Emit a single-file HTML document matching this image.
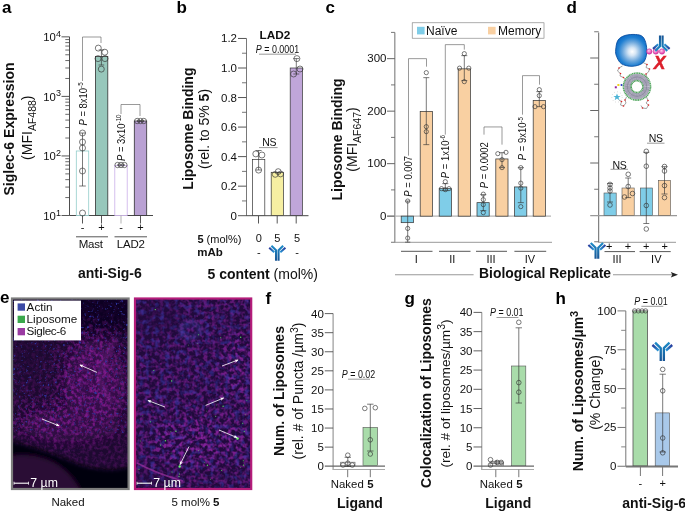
<!DOCTYPE html>
<html><head><meta charset="utf-8"><title>Figure</title>
<style>html,body{margin:0;padding:0;background:#fff}svg{display:block;will-change:transform}text{font-family:"Liberation Sans",sans-serif}</style></head>
<body><svg width="685" height="511" viewBox="0 0 685 511">
<rect width="685" height="511" fill="#fff"/>
<defs>
<linearGradient id="abH" gradientUnits="userSpaceOnUse" x1="0" y1="0" x2="0" y2="19"><stop offset="0" stop-color="#1e8cc8"/><stop offset="0.5" stop-color="#1a70ae"/><stop offset="1" stop-color="#185494"/></linearGradient>
<linearGradient id="abL" gradientUnits="userSpaceOnUse" x1="-9.9" y1="2.8" x2="-3.7" y2="8.3"><stop offset="0" stop-color="#27369a"/><stop offset="0.45" stop-color="#2563b4"/><stop offset="1" stop-color="#2a9ad8"/></linearGradient>
<linearGradient id="abR" gradientUnits="userSpaceOnUse" x1="9.9" y1="2.8" x2="3.7" y2="8.3"><stop offset="0" stop-color="#27369a"/><stop offset="0.45" stop-color="#2563b4"/><stop offset="1" stop-color="#2a9ad8"/></linearGradient>
</defs>
<text x="2" y="12.6" font-size="17" text-anchor="start" font-weight="bold" fill="#000"  style="">a</text>
<text x="176.5" y="12.6" font-size="17" text-anchor="start" font-weight="bold" fill="#000"  style="">b</text>
<text x="325.5" y="12.6" font-size="17" text-anchor="start" font-weight="bold" fill="#000"  style="">c</text>
<text x="566.5" y="12.6" font-size="17" text-anchor="start" font-weight="bold" fill="#000"  style="">d</text>
<text x="0" y="303.4" font-size="17" text-anchor="start" font-weight="bold" fill="#000"  style="">e</text>
<text x="265.5" y="303.6" font-size="17" text-anchor="start" font-weight="bold" fill="#000"  style="">f</text>
<text x="404.5" y="303.6" font-size="17" text-anchor="start" font-weight="bold" fill="#000"  style="">g</text>
<text x="555.5" y="303.7" font-size="17" text-anchor="start" font-weight="bold" fill="#000"  style="">h</text>
<line x1="69.5" y1="36.8" x2="69.5" y2="215.5" stroke="#3a3a3a" stroke-width="0.9"/>
<line x1="69.5" y1="215.5" x2="153" y2="215.5" stroke="#333" stroke-width="0.9"/>
<line x1="61.5" y1="215.5" x2="69.5" y2="215.5" stroke="#444" stroke-width="0.9"/>
<text x="60.9" y="219.8" font-size="11.3" text-anchor="end" fill="#111">10<tspan dy="-4.3" font-size="9">1</tspan></text>
<line x1="65.3" y1="197.57366375820993" x2="69.5" y2="197.57366375820993" stroke="#444" stroke-width="0.8"/>
<line x1="65.3" y1="187.08742928144412" x2="69.5" y2="187.08742928144412" stroke="#444" stroke-width="0.8"/>
<line x1="65.3" y1="179.64732751641984" x2="69.5" y2="179.64732751641984" stroke="#444" stroke-width="0.8"/>
<line x1="65.3" y1="173.87633624179009" x2="69.5" y2="173.87633624179009" stroke="#444" stroke-width="0.8"/>
<line x1="65.3" y1="169.16109303965402" x2="69.5" y2="169.16109303965402" stroke="#444" stroke-width="0.8"/>
<line x1="65.3" y1="165.174411717151" x2="69.5" y2="165.174411717151" stroke="#444" stroke-width="0.8"/>
<line x1="65.3" y1="161.72099127462977" x2="69.5" y2="161.72099127462977" stroke="#444" stroke-width="0.8"/>
<line x1="65.3" y1="158.6748585628882" x2="69.5" y2="158.6748585628882" stroke="#444" stroke-width="0.8"/>
<line x1="61.5" y1="155.95" x2="69.5" y2="155.95" stroke="#444" stroke-width="0.9"/>
<text x="60.9" y="160.25" font-size="11.3" text-anchor="end" fill="#111">10<tspan dy="-4.3" font-size="9">2</tspan></text>
<line x1="65.3" y1="138.02366375820992" x2="69.5" y2="138.02366375820992" stroke="#444" stroke-width="0.8"/>
<line x1="65.3" y1="127.53742928144409" x2="69.5" y2="127.53742928144409" stroke="#444" stroke-width="0.8"/>
<line x1="65.3" y1="120.09732751641984" x2="69.5" y2="120.09732751641984" stroke="#444" stroke-width="0.8"/>
<line x1="65.3" y1="114.32633624179009" x2="69.5" y2="114.32633624179009" stroke="#444" stroke-width="0.8"/>
<line x1="65.3" y1="109.61109303965404" x2="69.5" y2="109.61109303965404" stroke="#444" stroke-width="0.8"/>
<line x1="65.3" y1="105.624411717151" x2="69.5" y2="105.624411717151" stroke="#444" stroke-width="0.8"/>
<line x1="65.3" y1="102.17099127462976" x2="69.5" y2="102.17099127462976" stroke="#444" stroke-width="0.8"/>
<line x1="65.3" y1="99.12485856288822" x2="69.5" y2="99.12485856288822" stroke="#444" stroke-width="0.8"/>
<line x1="61.5" y1="96.4" x2="69.5" y2="96.4" stroke="#444" stroke-width="0.9"/>
<text x="60.9" y="100.7" font-size="11.3" text-anchor="end" fill="#111">10<tspan dy="-4.3" font-size="9">3</tspan></text>
<line x1="65.3" y1="78.47366375820991" x2="69.5" y2="78.47366375820991" stroke="#444" stroke-width="0.8"/>
<line x1="65.3" y1="67.9874292814441" x2="69.5" y2="67.9874292814441" stroke="#444" stroke-width="0.8"/>
<line x1="65.3" y1="60.54732751641984" x2="69.5" y2="60.54732751641984" stroke="#444" stroke-width="0.8"/>
<line x1="65.3" y1="54.77633624179009" x2="69.5" y2="54.77633624179009" stroke="#444" stroke-width="0.8"/>
<line x1="65.3" y1="50.061093039654025" x2="69.5" y2="50.061093039654025" stroke="#444" stroke-width="0.8"/>
<line x1="65.3" y1="46.07441171715101" x2="69.5" y2="46.07441171715101" stroke="#444" stroke-width="0.8"/>
<line x1="65.3" y1="42.620991274629745" x2="69.5" y2="42.620991274629745" stroke="#444" stroke-width="0.8"/>
<line x1="65.3" y1="39.57485856288821" x2="69.5" y2="39.57485856288821" stroke="#444" stroke-width="0.8"/>
<line x1="61.5" y1="36.85000000000002" x2="69.5" y2="36.85000000000002" stroke="#444" stroke-width="0.9"/>
<text x="60.9" y="41.15000000000002" font-size="11.3" text-anchor="end" fill="#111">10<tspan dy="-4.3" font-size="9">4</tspan></text>
<rect x="76.3" y="151" width="12.4" height="64.5" fill="#fff" stroke="#93cdcb" stroke-width="0.8"/>
<rect x="95.4" y="56.5" width="12.4" height="159.0" fill="#97c7bb" stroke="#333" stroke-width="0.8"/>
<rect x="114.8" y="165.5" width="12.4" height="50.0" fill="#fff" stroke="#cbb0ea" stroke-width="0.8"/>
<rect x="134.3" y="121" width="12.4" height="94.5" fill="#b9a1d3" stroke="#333" stroke-width="0.8"/>
<line x1="82.5" y1="215.5" x2="82.5" y2="223.5" stroke="#444" stroke-width="0.9"/>
<line x1="101.5" y1="215.5" x2="101.5" y2="223.5" stroke="#444" stroke-width="0.9"/>
<line x1="121" y1="215.5" x2="121" y2="223.5" stroke="#aaa" stroke-width="0.9"/>
<line x1="140.5" y1="215.5" x2="140.5" y2="223.5" stroke="#444" stroke-width="0.9"/>
<text x="82.5" y="231" font-size="11" text-anchor="middle" font-weight="normal" fill="#111"  style="">-</text>
<text x="101.5" y="231" font-size="11" text-anchor="middle" font-weight="normal" fill="#111"  style="">+</text>
<text x="121" y="231" font-size="11" text-anchor="middle" font-weight="normal" fill="#111"  style="">-</text>
<text x="140.5" y="231" font-size="11" text-anchor="middle" font-weight="normal" fill="#111"  style="">+</text>
<line x1="76" y1="236.8" x2="108" y2="236.8" stroke="#444" stroke-width="0.9"/>
<line x1="114.5" y1="236.8" x2="147" y2="236.8" stroke="#444" stroke-width="0.9"/>
<text x="90.8" y="248.2" font-size="11.5" text-anchor="middle" font-weight="normal" fill="#111"  style="letter-spacing:-0.2px">Mast</text>
<text x="130.8" y="248.2" font-size="11.5" text-anchor="middle" font-weight="normal" fill="#111"  style="letter-spacing:-0.2px">LAD2</text>
<text x="78" y="278.3" font-size="14" text-anchor="start" font-weight="bold" fill="#111"  style="">anti-Sig-6</text>
<text transform="translate(14.3,129) rotate(-90)" font-size="14" text-anchor="middle" font-weight="bold" fill="#111"  style="">Siglec-6 Expression</text>
<text transform="translate(32,127.7) rotate(-90)" font-size="14" text-anchor="middle" fill="#111">(MFI<tspan dy="4.4" font-size="10.5">AF488</tspan><tspan dy="-4.4">)</tspan></text>
<line x1="82.5" y1="133" x2="82.5" y2="186" stroke="#333" stroke-width="0.65"/>
<line x1="79.2" y1="133" x2="85.8" y2="133" stroke="#333" stroke-width="0.65"/>
<line x1="79.2" y1="186" x2="85.8" y2="186" stroke="#333" stroke-width="0.65"/>
<circle cx="82.5" cy="133" r="3.0" fill="none" stroke="#333" stroke-width="0.65"/>
<circle cx="82.5" cy="142" r="3.0" fill="none" stroke="#333" stroke-width="0.65"/>
<circle cx="82.5" cy="148" r="3.0" fill="none" stroke="#333" stroke-width="0.65"/>
<circle cx="82.5" cy="171" r="3.0" fill="none" stroke="#333" stroke-width="0.65"/>
<circle cx="82.5" cy="213" r="3.0" fill="none" stroke="#333" stroke-width="0.65"/>
<line x1="101.4" y1="49.9" x2="101.4" y2="65" stroke="#333" stroke-width="0.65"/>
<line x1="98.60000000000001" y1="49.9" x2="104.2" y2="49.9" stroke="#333" stroke-width="0.65"/>
<line x1="98.60000000000001" y1="65" x2="104.2" y2="65" stroke="#333" stroke-width="0.65"/>
<circle cx="98.3" cy="48.1" r="3.0" fill="none" stroke="#333" stroke-width="0.65"/>
<circle cx="104.8" cy="52.2" r="3.0" fill="none" stroke="#333" stroke-width="0.65"/>
<circle cx="98" cy="58.6" r="3.0" fill="none" stroke="#333" stroke-width="0.65"/>
<circle cx="105" cy="58.6" r="3.0" fill="none" stroke="#333" stroke-width="0.65"/>
<circle cx="101.3" cy="69.1" r="3.0" fill="none" stroke="#333" stroke-width="0.65"/>
<circle cx="117.6" cy="165" r="2.7" fill="none" stroke="#333" stroke-width="0.65"/>
<circle cx="121" cy="165" r="2.7" fill="none" stroke="#333" stroke-width="0.65"/>
<circle cx="124.4" cy="165" r="2.7" fill="none" stroke="#333" stroke-width="0.65"/>
<line x1="117" y1="165" x2="125" y2="165" stroke="#222" stroke-width="0.8"/>
<circle cx="137.2" cy="121" r="2.7" fill="none" stroke="#333" stroke-width="0.65"/>
<circle cx="140.5" cy="121" r="2.7" fill="none" stroke="#333" stroke-width="0.65"/>
<circle cx="143.8" cy="121" r="2.7" fill="none" stroke="#333" stroke-width="0.65"/>
<line x1="137" y1="121" x2="144" y2="121" stroke="#222" stroke-width="0.8"/>
<polyline points="82.5,81 82.5,37 101,37 101,43" fill="none" stroke="#555" stroke-width="0.6"/>
<polyline points="121,114 121,104.5 140,104.5 140,116" fill="none" stroke="#555" stroke-width="0.6"/>
<text transform="translate(86.7,125.5) rotate(-90) scale(0.83,1)" font-size="11.4" fill="#111"><tspan font-style="italic">P</tspan> = 8x10<tspan dy="-3.8" font-size="7.5">-5</tspan></text>
<text transform="translate(125,161) rotate(-90) scale(0.83,1)" font-size="11.4" fill="#111"><tspan font-style="italic">P</tspan> = 3x10<tspan dy="-3.8" font-size="7.5">-10</tspan></text>
<line x1="246.5" y1="38.5" x2="246.5" y2="216" stroke="#6a6a6a" stroke-width="0.9"/>
<line x1="246.5" y1="215.7" x2="308.5" y2="215.7" stroke="#333" stroke-width="0.9"/>
<line x1="238.0" y1="215.7" x2="246.5" y2="215.7" stroke="#555" stroke-width="1"/>
<text x="237.0" y="219.7" font-size="11.5" text-anchor="end" font-weight="normal" fill="#111"  style="">0</text>
<line x1="242.0" y1="200.92999999999998" x2="246.5" y2="200.92999999999998" stroke="#555" stroke-width="0.8"/>
<line x1="238.0" y1="186.16" x2="246.5" y2="186.16" stroke="#555" stroke-width="1"/>
<text x="237.0" y="190.16" font-size="11.5" text-anchor="end" font-weight="normal" fill="#111"  style="">0.2</text>
<line x1="242.0" y1="171.39" x2="246.5" y2="171.39" stroke="#555" stroke-width="0.8"/>
<line x1="238.0" y1="156.62" x2="246.5" y2="156.62" stroke="#555" stroke-width="1"/>
<text x="237.0" y="160.62" font-size="11.5" text-anchor="end" font-weight="normal" fill="#111"  style="">0.4</text>
<line x1="242.0" y1="141.85" x2="246.5" y2="141.85" stroke="#555" stroke-width="0.8"/>
<line x1="238.0" y1="127.08" x2="246.5" y2="127.08" stroke="#555" stroke-width="1"/>
<text x="237.0" y="131.07999999999998" font-size="11.5" text-anchor="end" font-weight="normal" fill="#111"  style="">0.6</text>
<line x1="242.0" y1="112.31" x2="246.5" y2="112.31" stroke="#555" stroke-width="0.8"/>
<line x1="238.0" y1="97.53999999999999" x2="246.5" y2="97.53999999999999" stroke="#555" stroke-width="1"/>
<text x="237.0" y="101.53999999999999" font-size="11.5" text-anchor="end" font-weight="normal" fill="#111"  style="">0.8</text>
<line x1="242.0" y1="82.76999999999998" x2="246.5" y2="82.76999999999998" stroke="#555" stroke-width="0.8"/>
<line x1="238.0" y1="68.0" x2="246.5" y2="68.0" stroke="#555" stroke-width="1"/>
<text x="237.0" y="72.0" font-size="11.5" text-anchor="end" font-weight="normal" fill="#111"  style="">1.0</text>
<line x1="242.0" y1="53.22999999999999" x2="246.5" y2="53.22999999999999" stroke="#555" stroke-width="0.8"/>
<line x1="238.0" y1="38.46000000000001" x2="246.5" y2="38.46000000000001" stroke="#555" stroke-width="1"/>
<text x="237.0" y="42.46000000000001" font-size="11.5" text-anchor="end" font-weight="normal" fill="#111"  style="">1.2</text>
<rect x="252.4" y="159.4" width="12.4" height="56.2" fill="#fff" stroke="#333" stroke-width="0.7"/>
<rect x="271.2" y="172.3" width="12.2" height="43.3" fill="#f6efa2" stroke="#333" stroke-width="0.7"/>
<rect x="290.2" y="68" width="12.2" height="147.6" fill="#c0a6d9" stroke="#333" stroke-width="0.7"/>
<line x1="258.5" y1="216" x2="258.5" y2="223.5" stroke="#444" stroke-width="0.9"/>
<line x1="277.2" y1="216" x2="277.2" y2="223.5" stroke="#444" stroke-width="0.9"/>
<line x1="296.2" y1="216" x2="296.2" y2="223.5" stroke="#444" stroke-width="0.9"/>
<text x="197.4" y="242.6" font-size="11" fill="#111"><tspan font-weight="bold">5</tspan> (mol%)</text>
<text x="258.8" y="242.3" font-size="11" text-anchor="middle" font-weight="normal" fill="#111"  style="">0</text>
<text x="277.4" y="242.3" font-size="11" text-anchor="middle" font-weight="normal" fill="#111"  style="">5</text>
<text x="297" y="242.3" font-size="11" text-anchor="middle" font-weight="normal" fill="#111"  style="">5</text>
<text x="197.2" y="255.6" font-size="11.5" text-anchor="start" font-weight="bold" fill="#111"  style="">mAb</text>
<text x="258.8" y="256" font-size="11" text-anchor="middle" font-weight="normal" fill="#111"  style="">-</text>
<text x="297" y="256" font-size="11" text-anchor="middle" font-weight="normal" fill="#111"  style="">-</text>
<g transform="translate(277.3,245.5) scale(0.8157894736842105)" fill="none" stroke-linecap="butt" stroke-linejoin="round">
<path d="M-7.2,0.4 L-1.55,5.9 L-1.55,18.8" stroke="url(#abH)" stroke-width="2.55"/>
<path d="M7.2,0.4 L1.55,5.9 L1.55,18.8" stroke="url(#abH)" stroke-width="2.55"/>
<path d="M-9.9,2.8 L-3.7,8.3" stroke="url(#abL)" stroke-width="2.55"/>
<path d="M9.9,2.8 L3.7,8.3" stroke="url(#abR)" stroke-width="2.55"/>
</g>
<text x="275" y="38.5" font-size="11.8" text-anchor="middle" font-weight="bold" fill="#111"  style="">LAD2</text>
<text transform="translate(277.5,52.8) scale(0.81,1)" font-size="11" text-anchor="middle" fill="#111"><tspan font-style="italic">P</tspan> = 0.0001</text>
<line x1="259" y1="54.2" x2="296" y2="54.2" stroke="#555" stroke-width="0.6"/>
<text x="269.2" y="146.2" font-size="10.5" text-anchor="middle" font-weight="normal" fill="#111"  style="letter-spacing:-0.3px">NS</text>
<line x1="259" y1="147.6" x2="277.6" y2="147.6" stroke="#555" stroke-width="0.6"/>
<text x="207.5" y="278.5" font-size="14" fill="#111"><tspan font-weight="bold">5 content</tspan> (mol%)</text>
<text transform="translate(193,128.6) rotate(-90)" font-size="14" text-anchor="middle" font-weight="bold" fill="#111"  style="">Liposome Binding</text>
<text transform="translate(209.4,129) rotate(-90)" font-size="14" text-anchor="middle" fill="#111">(rel. to 5% <tspan font-weight="bold">5</tspan>)</text>
<line x1="258.6" y1="150.5" x2="258.6" y2="170" stroke="#333" stroke-width="0.65"/>
<line x1="255.60000000000002" y1="150.5" x2="261.6" y2="150.5" stroke="#333" stroke-width="0.65"/>
<line x1="255.60000000000002" y1="170" x2="261.6" y2="170" stroke="#333" stroke-width="0.65"/>
<circle cx="255.8" cy="153.9" r="3.0" fill="none" stroke="#333" stroke-width="0.65"/>
<circle cx="261.9" cy="155" r="3.0" fill="none" stroke="#333" stroke-width="0.65"/>
<circle cx="258.6" cy="170.1" r="3.0" fill="none" stroke="#333" stroke-width="0.65"/>
<circle cx="275.2" cy="174.4" r="2.9" fill="none" stroke="#333" stroke-width="0.65"/>
<circle cx="278.2" cy="171.6" r="2.9" fill="none" stroke="#333" stroke-width="0.65"/>
<circle cx="280.6" cy="174" r="2.9" fill="none" stroke="#333" stroke-width="0.65"/>
<line x1="275" y1="172.8" x2="281" y2="172.8" stroke="#333" stroke-width="0.6"/>
<line x1="296.3" y1="58.6" x2="296.3" y2="74" stroke="#333" stroke-width="0.65"/>
<line x1="293.3" y1="58.6" x2="299.3" y2="58.6" stroke="#333" stroke-width="0.65"/>
<line x1="293.3" y1="74" x2="299.3" y2="74" stroke="#333" stroke-width="0.65"/>
<circle cx="296.9" cy="58.6" r="3.0" fill="none" stroke="#333" stroke-width="0.65"/>
<circle cx="300" cy="69" r="3.0" fill="none" stroke="#333" stroke-width="0.65"/>
<circle cx="293.6" cy="74" r="3.0" fill="none" stroke="#333" stroke-width="0.65"/>
<g transform="translate(0,0.65)">
<line x1="394.8" y1="31.8" x2="394.8" y2="241.8" stroke="#909090" stroke-width="1.3"/>
<line x1="387.3" y1="215.5" x2="551" y2="215.5" stroke="#b4b4b4" stroke-width="1.3"/>
<line x1="391.0" y1="241.75" x2="394.8" y2="241.75" stroke="#555" stroke-width="0.8"/>
<line x1="387.0" y1="215.5" x2="394.8" y2="215.5" stroke="#555" stroke-width="0.9"/>
<text x="386.5" y="219.2" font-size="11.5" text-anchor="end" font-weight="normal" fill="#111"  style="">0</text>
<line x1="391.0" y1="189.25" x2="394.8" y2="189.25" stroke="#555" stroke-width="0.8"/>
<line x1="387.0" y1="163.0" x2="394.8" y2="163.0" stroke="#555" stroke-width="0.9"/>
<text x="386.5" y="166.7" font-size="11.5" text-anchor="end" font-weight="normal" fill="#111"  style="">100</text>
<line x1="391.0" y1="136.75" x2="394.8" y2="136.75" stroke="#555" stroke-width="0.8"/>
<line x1="387.0" y1="110.5" x2="394.8" y2="110.5" stroke="#555" stroke-width="0.9"/>
<text x="386.5" y="114.2" font-size="11.5" text-anchor="end" font-weight="normal" fill="#111"  style="">200</text>
<line x1="391.0" y1="84.25" x2="394.8" y2="84.25" stroke="#555" stroke-width="0.8"/>
<line x1="387.0" y1="58.0" x2="394.8" y2="58.0" stroke="#555" stroke-width="0.9"/>
<text x="386.5" y="61.7" font-size="11.5" text-anchor="end" font-weight="normal" fill="#111"  style="">300</text>
<line x1="391.0" y1="31.75" x2="394.8" y2="31.75" stroke="#555" stroke-width="0.8"/>
<rect x="401.2" y="215.5" width="12.2" height="6.5" fill="#7fcde8" stroke="#3a3a3a" stroke-width="0.75"/>
<rect x="420.2" y="110.8" width="12.2" height="104.7" fill="#f9d0a2" stroke="#3a3a3a" stroke-width="0.75"/>
<rect x="439.2" y="188" width="12.2" height="27.5" fill="#7fcde8" stroke="#3a3a3a" stroke-width="0.75"/>
<rect x="458.2" y="68.2" width="12.2" height="147.3" fill="#f9d0a2" stroke="#3a3a3a" stroke-width="0.75"/>
<rect x="477" y="202" width="12.2" height="13.5" fill="#7fcde8" stroke="#3a3a3a" stroke-width="0.75"/>
<rect x="495.8" y="158.3" width="12.2" height="57.19999999999999" fill="#f9d0a2" stroke="#3a3a3a" stroke-width="0.75"/>
<rect x="514.6" y="186.3" width="12.2" height="29.19999999999999" fill="#7fcde8" stroke="#3a3a3a" stroke-width="0.75"/>
<rect x="533.2" y="99.8" width="12.2" height="115.7" fill="#f9d0a2" stroke="#3a3a3a" stroke-width="0.75"/>
</g>
<line x1="391.0" y1="242.3" x2="552" y2="242.3" stroke="#999" stroke-width="1"/>
<line x1="401" y1="251.3" x2="432.5" y2="251.3" stroke="#444" stroke-width="0.9"/>
<text x="416.35" y="263" font-size="11" text-anchor="middle" font-weight="normal" fill="#111"  style="">I</text>
<line x1="439" y1="251.3" x2="470.5" y2="251.3" stroke="#444" stroke-width="0.9"/>
<text x="452.35" y="263" font-size="11" text-anchor="middle" font-weight="normal" fill="#111"  style="">II</text>
<line x1="476" y1="251.3" x2="507" y2="251.3" stroke="#444" stroke-width="0.9"/>
<text x="491.1" y="263" font-size="11" text-anchor="middle" font-weight="normal" fill="#111"  style="">III</text>
<line x1="514.4" y1="251.3" x2="546.2" y2="251.3" stroke="#444" stroke-width="0.9"/>
<text x="529.9" y="263" font-size="11" text-anchor="middle" font-weight="normal" fill="#111"  style="">IV</text>
<rect x="412.2" y="22.8" width="131.8" height="15.4" fill="#fff" stroke="#777" stroke-width="0.6"/>
<rect x="417" y="26.8" width="7.6" height="7.6" fill="#7fcde8"/>
<text x="426" y="35" font-size="12" text-anchor="start" font-weight="normal" fill="#111"  style="">Naïve</text>
<rect x="488" y="26.8" width="7.6" height="7.6" fill="#f9d0a2"/>
<text x="498" y="35" font-size="12" text-anchor="start" font-weight="normal" fill="#111"  style="">Memory</text>
<g transform="translate(0,0.65)">
<line x1="407.7" y1="200.4" x2="407.7" y2="241.5" stroke="#333" stroke-width="0.65"/>
<line x1="405.09999999999997" y1="200.4" x2="410.3" y2="200.4" stroke="#333" stroke-width="0.65"/>
<line x1="405.09999999999997" y1="241.5" x2="410.3" y2="241.5" stroke="#333" stroke-width="0.65"/>
<circle cx="407.7" cy="200.4" r="2.1" fill="none" stroke="#333" stroke-width="0.65"/>
<circle cx="407.7" cy="227.8" r="2.1" fill="none" stroke="#333" stroke-width="0.65"/>
<circle cx="407.7" cy="237.4" r="2.1" fill="none" stroke="#333" stroke-width="0.65"/>
<line x1="426.3" y1="77" x2="426.3" y2="144" stroke="#333" stroke-width="0.65"/>
<line x1="423.3" y1="77" x2="429.3" y2="77" stroke="#333" stroke-width="0.65"/>
<line x1="423.3" y1="144" x2="429.3" y2="144" stroke="#333" stroke-width="0.65"/>
<circle cx="426.3" cy="72" r="2.1" fill="none" stroke="#333" stroke-width="0.65"/>
<circle cx="426.3" cy="126" r="2.1" fill="none" stroke="#333" stroke-width="0.65"/>
<circle cx="426.3" cy="131" r="2.1" fill="none" stroke="#333" stroke-width="0.65"/>
<line x1="445.3" y1="183" x2="445.3" y2="190" stroke="#333" stroke-width="0.65"/>
<line x1="442.3" y1="183" x2="448.3" y2="183" stroke="#333" stroke-width="0.65"/>
<line x1="442.3" y1="190" x2="448.3" y2="190" stroke="#333" stroke-width="0.65"/>
<circle cx="445.3" cy="181" r="2.1" fill="none" stroke="#333" stroke-width="0.65"/>
<circle cx="441.5" cy="188" r="2.1" fill="none" stroke="#333" stroke-width="0.65"/>
<circle cx="445.3" cy="189" r="2.1" fill="none" stroke="#333" stroke-width="0.65"/>
<circle cx="449" cy="188" r="2.1" fill="none" stroke="#333" stroke-width="0.65"/>
<line x1="464.3" y1="55" x2="464.3" y2="80" stroke="#333" stroke-width="0.65"/>
<line x1="461.3" y1="55" x2="467.3" y2="55" stroke="#333" stroke-width="0.65"/>
<line x1="461.3" y1="80" x2="467.3" y2="80" stroke="#333" stroke-width="0.65"/>
<circle cx="464.3" cy="53" r="2.1" fill="none" stroke="#333" stroke-width="0.65"/>
<circle cx="459.5" cy="67.5" r="2.1" fill="none" stroke="#333" stroke-width="0.65"/>
<circle cx="468.8" cy="67.5" r="2.1" fill="none" stroke="#333" stroke-width="0.65"/>
<circle cx="464.3" cy="81" r="2.1" fill="none" stroke="#333" stroke-width="0.65"/>
<line x1="483.3" y1="194" x2="483.3" y2="210" stroke="#333" stroke-width="0.65"/>
<line x1="480.3" y1="194" x2="486.3" y2="194" stroke="#333" stroke-width="0.65"/>
<line x1="480.3" y1="210" x2="486.3" y2="210" stroke="#333" stroke-width="0.65"/>
<circle cx="483.3" cy="193.5" r="2.1" fill="none" stroke="#333" stroke-width="0.65"/>
<circle cx="483.3" cy="199" r="2.1" fill="none" stroke="#333" stroke-width="0.65"/>
<circle cx="483.3" cy="204" r="2.1" fill="none" stroke="#333" stroke-width="0.65"/>
<circle cx="483.3" cy="212" r="2.1" fill="none" stroke="#333" stroke-width="0.65"/>
<line x1="502" y1="152" x2="502" y2="167" stroke="#333" stroke-width="0.65"/>
<line x1="499.0" y1="152" x2="505.0" y2="152" stroke="#333" stroke-width="0.65"/>
<line x1="499.0" y1="167" x2="505.0" y2="167" stroke="#333" stroke-width="0.65"/>
<circle cx="497.8" cy="153" r="2.1" fill="none" stroke="#333" stroke-width="0.65"/>
<circle cx="506" cy="151.7" r="2.1" fill="none" stroke="#333" stroke-width="0.65"/>
<circle cx="502" cy="159" r="2.1" fill="none" stroke="#333" stroke-width="0.65"/>
<circle cx="502" cy="167" r="2.1" fill="none" stroke="#333" stroke-width="0.65"/>
<line x1="520.8" y1="167" x2="520.8" y2="202" stroke="#333" stroke-width="0.65"/>
<line x1="517.8" y1="167" x2="523.8" y2="167" stroke="#333" stroke-width="0.65"/>
<line x1="517.8" y1="202" x2="523.8" y2="202" stroke="#333" stroke-width="0.65"/>
<circle cx="520.8" cy="167" r="2.1" fill="none" stroke="#333" stroke-width="0.65"/>
<circle cx="520.8" cy="182.5" r="2.1" fill="none" stroke="#333" stroke-width="0.65"/>
<circle cx="520.8" cy="187.5" r="2.1" fill="none" stroke="#333" stroke-width="0.65"/>
<circle cx="520.8" cy="206" r="2.1" fill="none" stroke="#333" stroke-width="0.65"/>
<line x1="539.3" y1="91" x2="539.3" y2="106" stroke="#333" stroke-width="0.65"/>
<line x1="536.3" y1="91" x2="542.3" y2="91" stroke="#333" stroke-width="0.65"/>
<line x1="536.3" y1="106" x2="542.3" y2="106" stroke="#333" stroke-width="0.65"/>
<circle cx="539.3" cy="89" r="2.1" fill="none" stroke="#333" stroke-width="0.65"/>
<circle cx="539.3" cy="95" r="2.1" fill="none" stroke="#333" stroke-width="0.65"/>
<circle cx="535" cy="106" r="2.1" fill="none" stroke="#333" stroke-width="0.65"/>
<circle cx="543.5" cy="106" r="2.1" fill="none" stroke="#333" stroke-width="0.65"/>
<polyline points="408.5,155 408.5,58 426.5,58 426.5,66" fill="none" stroke="#555" stroke-width="0.6"/>
<polyline points="445.3,134 445.3,44 464.3,44 464.3,49" fill="none" stroke="#555" stroke-width="0.6"/>
<polyline points="484,134 484,126.3 502,126.3 502,144" fill="none" stroke="#555" stroke-width="0.6"/>
<polyline points="522.5,114 522.5,75 539.5,75 539.5,84" fill="none" stroke="#555" stroke-width="0.6"/>
<text transform="translate(411.7,196) rotate(-90) scale(0.83,1)" font-size="11.4" fill="#111"><tspan font-style="italic">P</tspan> = 0.007</text>
<text transform="translate(449,177.5) rotate(-90) scale(0.83,1)" font-size="11.4" fill="#111"><tspan font-style="italic">P</tspan> = 1x10<tspan dy="-3.8" font-size="7.5">-6</tspan></text>
<text transform="translate(487.7,187.5) rotate(-90) scale(0.83,1)" font-size="11.4" fill="#111"><tspan font-style="italic">P</tspan> = 0.0002</text>
<text transform="translate(526.3,159.5) rotate(-90) scale(0.83,1)" font-size="11.4" fill="#111"><tspan font-style="italic">P</tspan> = 9x10<tspan dy="-3.8" font-size="7.5">-5</tspan></text>
</g>
<text transform="translate(341.5,139.5) rotate(-90)" font-size="14" text-anchor="middle" font-weight="bold" fill="#111"  style="">Liposome Binding</text>
<text transform="translate(357,139.5) rotate(-90)" font-size="14" text-anchor="middle" fill="#111">(MFI<tspan dy="4.4" font-size="10.5">AF647</tspan><tspan dy="-4.4">)</tspan></text>
<text x="479" y="278.2" font-size="13.9" text-anchor="start" font-weight="bold" fill="#111"  style="">Biological Replicate</text>
<line x1="395" y1="274.8" x2="473.6" y2="274.8" stroke="#999" stroke-width="1.1"/>
<line x1="613" y1="274.8" x2="674" y2="274.8" stroke="#999" stroke-width="1.1"/>
<path d="M678,274.8 L670.8,272 L672.3,274.8 L670.8,277.6 Z" fill="#222"/>
<line x1="598.7" y1="32.5" x2="598.7" y2="242.5" stroke="#666" stroke-width="1"/>
<line x1="598.7" y1="242.3" x2="676" y2="242.3" stroke="#999" stroke-width="1"/>
<line x1="590.2" y1="215.6" x2="677" y2="215.6" stroke="#999" stroke-width="1.2"/>
<line x1="594.2" y1="241.75" x2="598.7" y2="241.75" stroke="#666" stroke-width="0.9"/>
<line x1="594.2" y1="189.25" x2="598.7" y2="189.25" stroke="#666" stroke-width="0.9"/>
<line x1="590.2" y1="163.0" x2="598.7" y2="163.0" stroke="#666" stroke-width="1"/>
<line x1="594.2" y1="136.75" x2="598.7" y2="136.75" stroke="#666" stroke-width="0.9"/>
<line x1="590.2" y1="110.5" x2="598.7" y2="110.5" stroke="#666" stroke-width="1"/>
<line x1="594.2" y1="84.25" x2="598.7" y2="84.25" stroke="#666" stroke-width="0.9"/>
<line x1="590.2" y1="58.0" x2="598.7" y2="58.0" stroke="#666" stroke-width="1"/>
<line x1="594.2" y1="31.75" x2="598.7" y2="31.75" stroke="#666" stroke-width="0.9"/>
<rect x="604" y="193" width="12.2" height="22.599999999999994" fill="#7fcde8" stroke="#555" stroke-width="0.6"/>
<rect x="622" y="188" width="12.2" height="27.599999999999994" fill="#f9d0a2" stroke="#555" stroke-width="0.6"/>
<rect x="640.3" y="188" width="12.2" height="27.599999999999994" fill="#7fcde8" stroke="#555" stroke-width="0.6"/>
<rect x="658.4" y="180.3" width="12.2" height="35.29999999999998" fill="#f9d0a2" stroke="#555" stroke-width="0.6"/>
<line x1="610" y1="183.5" x2="610" y2="202" stroke="#333" stroke-width="0.65"/>
<line x1="607.0" y1="183.5" x2="613.0" y2="183.5" stroke="#333" stroke-width="0.65"/>
<line x1="607.0" y1="202" x2="613.0" y2="202" stroke="#333" stroke-width="0.65"/>
<circle cx="610" cy="184.4" r="2.3" fill="none" stroke="#333" stroke-width="0.65"/>
<circle cx="610" cy="188" r="2.3" fill="none" stroke="#333" stroke-width="0.65"/>
<circle cx="610" cy="191" r="2.3" fill="none" stroke="#333" stroke-width="0.65"/>
<circle cx="610" cy="205" r="2.3" fill="none" stroke="#333" stroke-width="0.65"/>
<line x1="628.2" y1="178" x2="628.2" y2="197.6" stroke="#333" stroke-width="0.65"/>
<line x1="625.2" y1="178" x2="631.2" y2="178" stroke="#333" stroke-width="0.65"/>
<line x1="625.2" y1="197.6" x2="631.2" y2="197.6" stroke="#333" stroke-width="0.65"/>
<circle cx="628.2" cy="174.3" r="2.3" fill="none" stroke="#333" stroke-width="0.65"/>
<circle cx="628.2" cy="186.5" r="2.3" fill="none" stroke="#333" stroke-width="0.65"/>
<circle cx="624.5" cy="197" r="2.3" fill="none" stroke="#333" stroke-width="0.65"/>
<circle cx="632.5" cy="193.5" r="2.3" fill="none" stroke="#333" stroke-width="0.65"/>
<line x1="646.3" y1="152.3" x2="646.3" y2="223.5" stroke="#333" stroke-width="0.65"/>
<line x1="643.3" y1="152.3" x2="649.3" y2="152.3" stroke="#333" stroke-width="0.65"/>
<line x1="643.3" y1="223.5" x2="649.3" y2="223.5" stroke="#333" stroke-width="0.65"/>
<circle cx="646.3" cy="151.3" r="2.3" fill="none" stroke="#333" stroke-width="0.65"/>
<circle cx="646.3" cy="166.2" r="2.3" fill="none" stroke="#333" stroke-width="0.65"/>
<circle cx="646.3" cy="205.5" r="2.3" fill="none" stroke="#333" stroke-width="0.65"/>
<circle cx="646.3" cy="229" r="2.3" fill="none" stroke="#333" stroke-width="0.65"/>
<line x1="664.5" y1="166.7" x2="664.5" y2="194" stroke="#333" stroke-width="0.65"/>
<line x1="661.5" y1="166.7" x2="667.5" y2="166.7" stroke="#333" stroke-width="0.65"/>
<line x1="661.5" y1="194" x2="667.5" y2="194" stroke="#333" stroke-width="0.65"/>
<circle cx="664.5" cy="166.5" r="2.3" fill="none" stroke="#333" stroke-width="0.65"/>
<circle cx="664.5" cy="171" r="2.3" fill="none" stroke="#333" stroke-width="0.65"/>
<circle cx="664.5" cy="185.6" r="2.3" fill="none" stroke="#333" stroke-width="0.65"/>
<circle cx="664.5" cy="197.6" r="2.3" fill="none" stroke="#333" stroke-width="0.65"/>
<text x="619.5" y="168.5" font-size="10.5" text-anchor="middle" font-weight="normal" fill="#111"  style="letter-spacing:-0.3px">NS</text>
<line x1="610.5" y1="169.3" x2="628" y2="169.3" stroke="#555" stroke-width="0.6"/>
<text x="655.8" y="142.3" font-size="10.5" text-anchor="middle" font-weight="normal" fill="#111"  style="letter-spacing:-0.3px">NS</text>
<line x1="647" y1="143.2" x2="664.5" y2="143.2" stroke="#555" stroke-width="0.6"/>
<text x="609.3" y="250.3" font-size="11" text-anchor="middle" font-weight="normal" fill="#111"  style="">+</text>
<text x="628" y="250.3" font-size="11" text-anchor="middle" font-weight="normal" fill="#111"  style="">+</text>
<text x="646.2" y="250.3" font-size="11" text-anchor="middle" font-weight="normal" fill="#111"  style="">+</text>
<text x="664.6" y="250.3" font-size="11" text-anchor="middle" font-weight="normal" fill="#111"  style="">+</text>
<line x1="604.5" y1="251.6" x2="635" y2="251.6" stroke="#444" stroke-width="0.9"/>
<line x1="639.6" y1="251.6" x2="670.7" y2="251.6" stroke="#444" stroke-width="0.9"/>
<text x="617" y="263" font-size="11" text-anchor="middle" font-weight="normal" fill="#111"  style="">III</text>
<text x="656.3" y="263" font-size="11" text-anchor="middle" font-weight="normal" fill="#111"  style="">IV</text>
<g transform="translate(596.9,242.6) scale(0.8578947368421053)" fill="none" stroke-linecap="butt" stroke-linejoin="round">
<path d="M-7.2,0.4 L-1.55,5.9 L-1.55,18.8" stroke="url(#abH)" stroke-width="2.55"/>
<path d="M7.2,0.4 L1.55,5.9 L1.55,18.8" stroke="url(#abH)" stroke-width="2.55"/>
<path d="M-9.9,2.8 L-3.7,8.3" stroke="url(#abL)" stroke-width="2.55"/>
<path d="M9.9,2.8 L3.7,8.3" stroke="url(#abR)" stroke-width="2.55"/>
</g>
<defs><radialGradient id="cell" cx="0.53" cy="0.54" r="0.56"><stop offset="0" stop-color="#ffffff"/><stop offset="0.22" stop-color="#d6e6f5"/><stop offset="0.55" stop-color="#6aa6dc"/><stop offset="0.8" stop-color="#1f7fd2"/><stop offset="1" stop-color="#0d6cc6"/></radialGradient>
<radialGradient id="pk" cx="0.4" cy="0.35" r="0.6"><stop offset="0" stop-color="#ffd0ee"/><stop offset="1" stop-color="#e23aa8"/></radialGradient></defs>
<path d="M615.7,50 C615.93,47.37 616.37,42.72 617.9,40.3 C619.43,37.88 621.97,36.47 624.9,35.5 C627.83,34.53 632.53,34.30 635.5,34.5 C638.47,34.70 640.92,35.00 642.7,36.7 C644.48,38.40 645.58,41.62 646.2,44.7 C646.82,47.78 647.02,52.12 646.4,55.2 C645.78,58.28 644.90,61.35 642.5,63.2 C640.10,65.05 635.52,66.22 632,66.3 C628.48,66.38 623.98,65.40 621.4,63.7 C618.82,62.00 617.45,58.38 616.5,56.1 C615.55,53.82 615.47,52.63 615.7,50 Z" fill="url(#cell)" stroke="#0b4fa2" stroke-width="0.9"/>
<circle cx="649.3" cy="51.5" r="2.7" fill="url(#pk)" stroke="#c02890" stroke-width="0.5"/>
<circle cx="655.8" cy="51.5" r="2.7" fill="url(#pk)" stroke="#c02890" stroke-width="0.5"/>
<circle cx="662" cy="51.5" r="2.7" fill="url(#pk)" stroke="#c02890" stroke-width="0.5"/>
<g transform="translate(661.3,51.199999999999996) scale(0.8368421052631579,-0.8368421052631579)" fill="none" stroke-linecap="butt" stroke-linejoin="round">
<path d="M-7.2,0.4 L-1.55,5.9 L-1.55,18.8" stroke="url(#abH)" stroke-width="2.55"/>
<path d="M7.2,0.4 L1.55,5.9 L1.55,18.8" stroke="url(#abH)" stroke-width="2.55"/>
<path d="M-9.9,2.8 L-3.7,8.3" stroke="url(#abL)" stroke-width="2.55"/>
<path d="M9.9,2.8 L3.7,8.3" stroke="url(#abR)" stroke-width="2.55"/>
</g>
<text x="653.8" y="69.3" font-size="17.5" font-weight="bold" font-style="italic" fill="#dc1f2b" stroke="#dc1f2b" stroke-width="0.5">X</text>
<circle cx="637" cy="86.6" r="13.4" fill="none" stroke="#55a862" stroke-width="1.9" stroke-dasharray="1.25 0.45"/>
<circle cx="637" cy="86.6" r="9.6" fill="none" stroke="#8f8ca2" stroke-width="6.2"/>
<circle cx="637" cy="86.6" r="9.6" fill="none" stroke="#c9c7d6" stroke-width="6.2" stroke-dasharray="0.35 0.5"/>
<circle cx="637" cy="86.6" r="9.7" fill="none" stroke="#77748c" stroke-width="0.8" opacity="0.6"/>
<circle cx="637" cy="86.6" r="5.9" fill="#fff" stroke="#4fa35c" stroke-width="1.7" stroke-dasharray="1.1 0.4"/>
<polyline points="622.5,66 619,68 617.5,71 620.5,73.5 620,76 623.5,77.5 625.5,80" fill="none" stroke="#858585" stroke-width="0.75"/>
<circle cx="619" cy="68" r="0.8" fill="#e02020"/>
<circle cx="620.5" cy="73.5" r="0.8" fill="#e02020"/>
<circle cx="623.5" cy="77.5" r="0.8" fill="#e02020"/>
<polyline points="643,62.5 647,64.5 646,67.5 649.5,69 648.5,72 646,74 646.5,77.5" fill="none" stroke="#858585" stroke-width="0.75"/>
<circle cx="647" cy="64.5" r="0.8" fill="#e02020"/>
<circle cx="649.5" cy="69" r="0.8" fill="#e02020"/>
<circle cx="646" cy="74" r="0.8" fill="#e02020"/>
<polyline points="626.5,97 625,100 626,103 623.5,106 620.5,105 621.5,101.5 619,100" fill="none" stroke="#858585" stroke-width="0.75"/>
<circle cx="625" cy="100" r="0.8" fill="#e02020"/>
<circle cx="623.5" cy="106" r="0.8" fill="#e02020"/>
<circle cx="621.5" cy="101.5" r="0.8" fill="#e02020"/>
<polyline points="646.5,97 648,100.5 646,103 648.5,105 646.5,108.5 642.5,108 641,105.5" fill="none" stroke="#858585" stroke-width="0.75"/>
<circle cx="648" cy="100.5" r="0.8" fill="#e02020"/>
<circle cx="648.5" cy="105" r="0.8" fill="#e02020"/>
<circle cx="642.5" cy="108" r="0.8" fill="#e02020"/>
<rect x="617.4" y="84" width="2" height="2" fill="#f2d21a"/><rect x="614.8" y="86.3" width="2" height="2" fill="#9020a0"/><circle cx="621.5" cy="85" r="1" fill="#2030c0"/>
<path d="M617,93.5 L618,96 L620.6,96 L618.5,97.6 L619.3,100.2 L617,98.6 L614.7,100.2 L615.5,97.6 L613.4,96 L616,96 Z" fill="#4db4d6"/>
<circle cx="617" cy="97" r="5.2" fill="none" stroke="#aaa" stroke-width="0.7" stroke-dasharray="0.6 2.4"/>
<line x1="333.1" y1="313.6" x2="333.1" y2="470" stroke="#999" stroke-width="1.2"/>
<line x1="333.1" y1="469.5" x2="385" y2="469.5" stroke="#aaa" stroke-width="1"/>
<line x1="324.8" y1="466.2" x2="385" y2="466.2" stroke="#666" stroke-width="1.3"/>
<text x="323.8" y="470.2" font-size="11.5" text-anchor="end" font-weight="normal" fill="#111"  style="">0</text>
<line x1="324.8" y1="447.125" x2="333.1" y2="447.125" stroke="#505050" stroke-width="0.9"/>
<text x="323.8" y="451.125" font-size="11.5" text-anchor="end" font-weight="normal" fill="#111"  style="">5</text>
<line x1="324.8" y1="428.05" x2="333.1" y2="428.05" stroke="#505050" stroke-width="0.9"/>
<text x="323.8" y="432.05" font-size="11.5" text-anchor="end" font-weight="normal" fill="#111"  style="">10</text>
<line x1="324.8" y1="408.97499999999997" x2="333.1" y2="408.97499999999997" stroke="#505050" stroke-width="0.9"/>
<text x="323.8" y="412.97499999999997" font-size="11.5" text-anchor="end" font-weight="normal" fill="#111"  style="">15</text>
<line x1="324.8" y1="389.9" x2="333.1" y2="389.9" stroke="#505050" stroke-width="0.9"/>
<text x="323.8" y="393.9" font-size="11.5" text-anchor="end" font-weight="normal" fill="#111"  style="">20</text>
<line x1="324.8" y1="370.825" x2="333.1" y2="370.825" stroke="#505050" stroke-width="0.9"/>
<text x="323.8" y="374.825" font-size="11.5" text-anchor="end" font-weight="normal" fill="#111"  style="">25</text>
<line x1="324.8" y1="351.75" x2="333.1" y2="351.75" stroke="#505050" stroke-width="0.9"/>
<text x="323.8" y="355.75" font-size="11.5" text-anchor="end" font-weight="normal" fill="#111"  style="">30</text>
<line x1="324.8" y1="332.67499999999995" x2="333.1" y2="332.67499999999995" stroke="#505050" stroke-width="0.9"/>
<text x="323.8" y="336.67499999999995" font-size="11.5" text-anchor="end" font-weight="normal" fill="#111"  style="">35</text>
<line x1="324.8" y1="313.6" x2="333.1" y2="313.6" stroke="#505050" stroke-width="0.9"/>
<text x="323.8" y="317.6" font-size="11.5" text-anchor="end" font-weight="normal" fill="#111"  style="">40</text>
<rect x="340.7" y="462.2" width="14.3" height="3.5" fill="#fff" stroke="#555" stroke-width="0.6"/>
<rect x="363" y="427.4" width="14.6" height="38.3" fill="#a9dcaa" stroke="#555" stroke-width="0.6"/>
<line x1="347.7" y1="469.6" x2="347.7" y2="477.2" stroke="#777" stroke-width="1"/>
<line x1="370.3" y1="469.6" x2="370.3" y2="477.2" stroke="#777" stroke-width="1"/>
<text x="330.8" y="488.2" font-size="11.4" fill="#111">Naked <tspan font-weight="bold" dx="0.3">5</tspan></text>
<text x="337" y="508.4" font-size="14" text-anchor="start" font-weight="bold" fill="#111"  style="">Ligand</text>
<line x1="347.8" y1="457.3" x2="347.8" y2="466.5" stroke="#333" stroke-width="0.65"/>
<line x1="344.6" y1="457.3" x2="351.0" y2="457.3" stroke="#333" stroke-width="0.65"/>
<line x1="344.6" y1="466.5" x2="351.0" y2="466.5" stroke="#333" stroke-width="0.65"/>
<circle cx="347.8" cy="455.2" r="2.3" fill="none" stroke="#333" stroke-width="0.65"/>
<circle cx="343" cy="465" r="2.3" fill="none" stroke="#333" stroke-width="0.65"/>
<circle cx="347.8" cy="463.2" r="2.3" fill="none" stroke="#333" stroke-width="0.65"/>
<circle cx="352.3" cy="465" r="2.3" fill="none" stroke="#333" stroke-width="0.65"/>
<line x1="370.3" y1="404.2" x2="370.3" y2="451" stroke="#333" stroke-width="0.65"/>
<line x1="367.1" y1="404.2" x2="373.5" y2="404.2" stroke="#333" stroke-width="0.65"/>
<line x1="367.1" y1="451" x2="373.5" y2="451" stroke="#333" stroke-width="0.65"/>
<circle cx="364.8" cy="408.4" r="2.3" fill="none" stroke="#333" stroke-width="0.65"/>
<circle cx="375.3" cy="407.7" r="2.3" fill="none" stroke="#333" stroke-width="0.65"/>
<circle cx="370.3" cy="439.8" r="2.3" fill="none" stroke="#333" stroke-width="0.65"/>
<circle cx="370.3" cy="454" r="2.3" fill="none" stroke="#333" stroke-width="0.65"/>
<text transform="translate(358.5,378.3) scale(0.81,1)" font-size="11" text-anchor="middle" fill="#111"><tspan font-style="italic">P</tspan> = 0.02</text>
<line x1="348" y1="379.2" x2="370" y2="379.2" stroke="#555" stroke-width="0.6"/>
<text transform="translate(284,391) rotate(-90)" font-size="14" text-anchor="middle" font-weight="bold" fill="#111"  style="">Num. of Liposomes</text>
<text transform="translate(303,391) rotate(-90)" font-size="14" text-anchor="middle" fill="#111">(rel. # of Puncta /µm<tspan dy="-5" font-size="10.5">3</tspan><tspan dy="5">)</tspan></text>
<line x1="481.8" y1="312.4" x2="481.8" y2="470" stroke="#8c8c8c" stroke-width="1"/>
<line x1="481.8" y1="469.5" x2="534" y2="469.5" stroke="#aaa" stroke-width="1"/>
<line x1="473.5" y1="466.2" x2="534" y2="466.2" stroke="#666" stroke-width="1.3"/>
<text x="472.5" y="470.2" font-size="11.5" text-anchor="end" font-weight="normal" fill="#111"  style="">0</text>
<line x1="473.5" y1="446.97499999999997" x2="481.8" y2="446.97499999999997" stroke="#505050" stroke-width="0.9"/>
<text x="472.5" y="450.97499999999997" font-size="11.5" text-anchor="end" font-weight="normal" fill="#111"  style="">5</text>
<line x1="473.5" y1="427.75" x2="481.8" y2="427.75" stroke="#505050" stroke-width="0.9"/>
<text x="472.5" y="431.75" font-size="11.5" text-anchor="end" font-weight="normal" fill="#111"  style="">10</text>
<line x1="473.5" y1="408.525" x2="481.8" y2="408.525" stroke="#505050" stroke-width="0.9"/>
<text x="472.5" y="412.525" font-size="11.5" text-anchor="end" font-weight="normal" fill="#111"  style="">15</text>
<line x1="473.5" y1="389.29999999999995" x2="481.8" y2="389.29999999999995" stroke="#505050" stroke-width="0.9"/>
<text x="472.5" y="393.29999999999995" font-size="11.5" text-anchor="end" font-weight="normal" fill="#111"  style="">20</text>
<line x1="473.5" y1="370.075" x2="481.8" y2="370.075" stroke="#505050" stroke-width="0.9"/>
<text x="472.5" y="374.075" font-size="11.5" text-anchor="end" font-weight="normal" fill="#111"  style="">25</text>
<line x1="473.5" y1="350.84999999999997" x2="481.8" y2="350.84999999999997" stroke="#505050" stroke-width="0.9"/>
<text x="472.5" y="354.84999999999997" font-size="11.5" text-anchor="end" font-weight="normal" fill="#111"  style="">30</text>
<line x1="473.5" y1="331.625" x2="481.8" y2="331.625" stroke="#505050" stroke-width="0.9"/>
<text x="472.5" y="335.625" font-size="11.5" text-anchor="end" font-weight="normal" fill="#111"  style="">35</text>
<line x1="473.5" y1="312.4" x2="481.8" y2="312.4" stroke="#505050" stroke-width="0.9"/>
<text x="472.5" y="316.4" font-size="11.5" text-anchor="end" font-weight="normal" fill="#111"  style="">40</text>
<rect x="490" y="462.2" width="13.6" height="3.5" fill="#fff" stroke="#555" stroke-width="0.6"/>
<rect x="511.6" y="366" width="14.2" height="99.7" fill="#a9dcaa" stroke="#555" stroke-width="0.6"/>
<line x1="495.8" y1="469.6" x2="495.8" y2="477.2" stroke="#777" stroke-width="1"/>
<line x1="518.8" y1="469.6" x2="518.8" y2="477.2" stroke="#777" stroke-width="1"/>
<text x="479.8" y="488.2" font-size="11.4" fill="#111">Naked <tspan font-weight="bold" dx="0.3">5</tspan></text>
<text x="485.3" y="508.4" font-size="14" text-anchor="start" font-weight="bold" fill="#111"  style="">Ligand</text>
<line x1="490.5" y1="461.3" x2="503" y2="461.3" stroke="#333" stroke-width="0.6"/>
<line x1="490.5" y1="463.6" x2="503" y2="463.6" stroke="#333" stroke-width="0.6"/>
<line x1="496.3" y1="460" x2="496.3" y2="465" stroke="#333" stroke-width="0.6"/>
<circle cx="490.5" cy="459.7" r="2.3" fill="none" stroke="#333" stroke-width="0.65"/>
<circle cx="490.5" cy="465" r="2.3" fill="none" stroke="#333" stroke-width="0.65"/>
<circle cx="497.2" cy="462.4" r="2.3" fill="none" stroke="#333" stroke-width="0.65"/>
<circle cx="501.2" cy="462.4" r="2.3" fill="none" stroke="#333" stroke-width="0.65"/>
<line x1="518.8" y1="327.8" x2="518.8" y2="403" stroke="#333" stroke-width="0.65"/>
<line x1="515.5999999999999" y1="327.8" x2="522.0" y2="327.8" stroke="#333" stroke-width="0.65"/>
<line x1="515.5999999999999" y1="403" x2="522.0" y2="403" stroke="#333" stroke-width="0.65"/>
<circle cx="518.8" cy="322.3" r="2.3" fill="none" stroke="#333" stroke-width="0.65"/>
<circle cx="518.8" cy="382.6" r="2.3" fill="none" stroke="#333" stroke-width="0.65"/>
<circle cx="518.8" cy="392.2" r="2.3" fill="none" stroke="#333" stroke-width="0.65"/>
<text transform="translate(506.8,316.3) scale(0.81,1)" font-size="11" text-anchor="middle" fill="#111"><tspan font-style="italic">P</tspan> = 0.01</text>
<line x1="496.5" y1="317.5" x2="518.4" y2="317.5" stroke="#555" stroke-width="0.6"/>
<text transform="translate(431,393) rotate(-90)" font-size="14" text-anchor="middle" font-weight="bold" fill="#111"  style="">Colocalization of Liposomes</text>
<text transform="translate(450.3,393.5) rotate(-90)" font-size="13.6" text-anchor="middle" fill="#111">(rel. # of liposomes/µm<tspan dy="-5" font-size="10.5">3</tspan><tspan dy="5">)</tspan></text>
<line x1="625.8" y1="310.9" x2="625.8" y2="466.5" stroke="#777" stroke-width="1"/>
<line x1="625.8" y1="466.4" x2="678" y2="466.4" stroke="#777" stroke-width="2"/>
<line x1="617.5" y1="466.3" x2="625.8" y2="466.3" stroke="#888" stroke-width="1.2"/>
<text x="616.5" y="470.3" font-size="11.5" text-anchor="end" font-weight="normal" fill="#111"  style="">0</text>
<line x1="621.1999999999999" y1="446.875" x2="625.8" y2="446.875" stroke="#777" stroke-width="0.9"/>
<line x1="617.5" y1="427.45" x2="625.8" y2="427.45" stroke="#777" stroke-width="1"/>
<text x="616.5" y="431.45" font-size="11.5" text-anchor="end" font-weight="normal" fill="#111"  style="">25</text>
<line x1="621.1999999999999" y1="408.02500000000003" x2="625.8" y2="408.02500000000003" stroke="#777" stroke-width="0.9"/>
<line x1="617.5" y1="388.6" x2="625.8" y2="388.6" stroke="#777" stroke-width="1"/>
<text x="616.5" y="392.6" font-size="11.5" text-anchor="end" font-weight="normal" fill="#111"  style="">50</text>
<line x1="621.1999999999999" y1="369.175" x2="625.8" y2="369.175" stroke="#777" stroke-width="0.9"/>
<line x1="617.5" y1="349.75" x2="625.8" y2="349.75" stroke="#777" stroke-width="1"/>
<text x="616.5" y="353.75" font-size="11.5" text-anchor="end" font-weight="normal" fill="#111"  style="">75</text>
<line x1="621.1999999999999" y1="330.32500000000005" x2="625.8" y2="330.32500000000005" stroke="#777" stroke-width="0.9"/>
<line x1="617.5" y1="310.9" x2="625.8" y2="310.9" stroke="#777" stroke-width="1"/>
<text x="616.5" y="314.9" font-size="11.5" text-anchor="end" font-weight="normal" fill="#111"  style="">100</text>
<rect x="633" y="310.9" width="14.6" height="154.9" fill="#a9dcaa" stroke="#555" stroke-width="0.8"/>
<rect x="655.2" y="412.9" width="14.4" height="52.9" fill="#a9c9ea" stroke="#555" stroke-width="0.6"/>
<line x1="640.4" y1="467" x2="640.4" y2="476" stroke="#777" stroke-width="1"/>
<line x1="662.6" y1="467" x2="662.6" y2="476" stroke="#777" stroke-width="1"/>
<text x="640.4" y="487.2" font-size="11" text-anchor="middle" font-weight="normal" fill="#111"  style="">-</text>
<text x="662.6" y="487.4" font-size="11" text-anchor="middle" font-weight="normal" fill="#111"  style="">+</text>
<text x="622.3" y="507.9" font-size="14" text-anchor="start" font-weight="bold" fill="#111"  style="">anti-Sig-6</text>
<circle cx="634.6" cy="310.9" r="2.15" fill="none" stroke="#333" stroke-width="0.65"/>
<circle cx="638.3" cy="310.9" r="2.15" fill="none" stroke="#333" stroke-width="0.65"/>
<circle cx="642" cy="310.9" r="2.15" fill="none" stroke="#333" stroke-width="0.65"/>
<circle cx="645.6" cy="310.9" r="2.15" fill="none" stroke="#333" stroke-width="0.65"/>
<line x1="662.7" y1="374.2" x2="662.7" y2="452" stroke="#333" stroke-width="0.65"/>
<line x1="659.5" y1="374.2" x2="665.9000000000001" y2="374.2" stroke="#333" stroke-width="0.65"/>
<line x1="659.5" y1="452" x2="665.9000000000001" y2="452" stroke="#333" stroke-width="0.65"/>
<circle cx="662.7" cy="369.4" r="2.3" fill="none" stroke="#333" stroke-width="0.65"/>
<circle cx="662.7" cy="390.8" r="2.3" fill="none" stroke="#333" stroke-width="0.65"/>
<circle cx="662.7" cy="438" r="2.3" fill="none" stroke="#333" stroke-width="0.65"/>
<circle cx="662.7" cy="452.8" r="2.3" fill="none" stroke="#333" stroke-width="0.65"/>
<text transform="translate(651,305.2) scale(0.81,1)" font-size="11" text-anchor="middle" fill="#111"><tspan font-style="italic">P</tspan> = 0.01</text>
<line x1="641.4" y1="306.3" x2="663.3" y2="306.3" stroke="#555" stroke-width="0.6"/>
<g transform="translate(662.3,342.2) scale(1.0)" fill="none" stroke-linecap="butt" stroke-linejoin="round">
<path d="M-7.2,0.4 L-1.55,5.9 L-1.55,18.8" stroke="url(#abH)" stroke-width="2.35"/>
<path d="M7.2,0.4 L1.55,5.9 L1.55,18.8" stroke="url(#abH)" stroke-width="2.35"/>
<path d="M-9.9,2.8 L-3.7,8.3" stroke="url(#abL)" stroke-width="2.35"/>
<path d="M9.9,2.8 L3.7,8.3" stroke="url(#abR)" stroke-width="2.35"/>
</g>
<text transform="translate(582.5,391) rotate(-90)" font-size="14" text-anchor="middle" font-weight="bold" fill="#111">Num. of Liposomes/µm<tspan dy="-5" font-size="11">3</tspan></text>
<text transform="translate(599.7,392.5) rotate(-90)" font-size="14" text-anchor="middle" fill="#111">(% Change)</text>
<defs>
<filter id="n1" x="0" y="0" width="1" height="1" color-interpolation-filters="sRGB"><feTurbulence type="fractalNoise" baseFrequency="0.28" numOctaves="3" seed="3"/><feColorMatrix type="matrix" values="0 0 0 0 0.50  0 0 0 0 0.10  0 0 0 0 0.55  2.7 0 0 0 -1.06"/><feGaussianBlur stdDeviation="0.55"/></filter>
<filter id="n2" x="0" y="0" width="1" height="1" color-interpolation-filters="sRGB"><feTurbulence type="fractalNoise" baseFrequency="0.38" numOctaves="2" seed="11"/><feColorMatrix type="matrix" values="0 0 0 0 0.18  0 0 0 0 0.20  0 0 0 0 0.62  0 4.6 0 0 -2.85"/><feGaussianBlur stdDeviation="0.65"/></filter>
<filter id="n3" x="0" y="0" width="1" height="1" color-interpolation-filters="sRGB"><feTurbulence type="fractalNoise" baseFrequency="0.25" numOctaves="3" seed="23"/><feColorMatrix type="matrix" values="0 0 0 0 0.52  0 0 0 0 0.13  0 0 0 0 0.60  3.0 0 0 0 -1.2"/><feGaussianBlur stdDeviation="0.6"/></filter>
<filter id="n4" x="0" y="0" width="1" height="1" color-interpolation-filters="sRGB"><feTurbulence type="fractalNoise" baseFrequency="0.2" numOctaves="2" seed="41"/><feColorMatrix type="matrix" values="0 0 0 0 0.22  0 0 0 0 0.22  0 0 0 0 0.66  0 3.2 0 0 -1.55"/><feGaussianBlur stdDeviation="0.7"/></filter>
<filter id="bl" x="-0.3" y="-0.3" width="1.6" height="1.6"><feGaussianBlur stdDeviation="6"/></filter>
<filter id="bl2" x="-0.3" y="-0.3" width="1.6" height="1.6"><feGaussianBlur stdDeviation="2.2"/></filter>
<clipPath id="c1"><rect x="12" y="298.5" width="116.5" height="190.5"/></clipPath>
<clipPath id="c2"><rect x="135" y="298.5" width="116" height="190.5"/></clipPath>
<marker id="ah" viewBox="0 0 6 6" refX="5" refY="3" markerWidth="5" markerHeight="5" orient="auto"><path d="M0,0.6 L6,3 L0,5.4 L1.5,3 Z" fill="#fff"/></marker>
</defs>
<defs>
<filter id="bl3" x="-0.3" y="-0.3" width="1.6" height="1.6"><feGaussianBlur stdDeviation="9"/></filter>
<mask id="m1" maskUnits="userSpaceOnUse" x="0" y="290" width="140" height="210"><rect x="0" y="290" width="140" height="210" fill="#5a5a5a"/><g filter="url(#bl3)"><ellipse cx="92" cy="385" rx="34" ry="52" fill="#fff"/><ellipse cx="64" cy="420" rx="56" ry="20" fill="#e6e6e6"/><rect x="0" y="285" width="140" height="42" fill="#1a1a1a"/><ellipse cx="28" cy="345" rx="24" ry="30" fill="#333"/></g></mask>
<mask id="m2" maskUnits="userSpaceOnUse" x="125" y="290" width="140" height="210"><rect x="125" y="290" width="140" height="210" fill="#a0a0a0"/><g filter="url(#bl3)"><ellipse cx="200" cy="440" rx="48" ry="26" fill="#fff"/><ellipse cx="238" cy="370" rx="16" ry="40" fill="#eee"/><ellipse cx="155" cy="318" rx="28" ry="20" fill="#444"/><ellipse cx="150" cy="485" rx="22" ry="12" fill="#333"/></g></mask>
</defs>
<g clip-path="url(#c1)">
<rect x="12" y="298" width="117" height="192" fill="#1d0930"/>
<g filter="url(#bl)">
<rect x="5" y="290" width="130" height="44" fill="#0c0620"/>
<ellipse cx="95" cy="385" rx="30" ry="45" fill="#35104a"/>
<ellipse cx="70" cy="425" rx="50" ry="16" fill="#300e44"/>
</g>
<g mask="url(#m1)"><rect x="12" y="298" width="117" height="192" filter="url(#n1)"/></g>
<rect x="12" y="298" width="117" height="135" filter="url(#n2)"/>
<path d="M117,338 C108,352 102,360 100,372 C98,382 104,392 112,402" fill="none" stroke="#8a2c98" stroke-width="3" opacity="0.5" filter="url(#bl2)"/>
<g filter="url(#bl2)">
<path d="M8,441 C30,445 55,455 80,465 C100,471 118,471 133,466 L133,495 L8,495 Z" fill="#05020a"/>
<path d="M8,457 C22,453 42,455 58,465 C70,473 78,484 82,495 L8,495 Z" fill="#2a0b36"/>
</g>
</g>
<rect x="12" y="298.5" width="116.6" height="190.5" fill="none" stroke="#7d7d7d" stroke-width="2.2"/>
<g clip-path="url(#c2)">
<rect x="135" y="298" width="117" height="192" fill="#210a3c"/>
<g mask="url(#m2)"><rect x="135" y="298" width="117" height="192" filter="url(#n3)"/></g>
<rect x="135" y="298" width="117" height="192" filter="url(#n4)" opacity="0.6"/>
<ellipse cx="190.5" cy="330" rx="9.5" ry="7.5" fill="none" stroke="#4a55c0" stroke-width="2.6" opacity="0.6" filter="url(#bl2)"/>
<path d="M137,463 C150,470 165,476 183,481" fill="none" stroke="#9a30a0" stroke-width="1.6" opacity="0.7"/>
<circle cx="207.4" cy="465.3" r="0.70" fill="#55d85c"/>
<circle cx="243.5" cy="465.1" r="0.70" fill="#55d85c"/>
<circle cx="140.3" cy="441.0" r="0.45" fill="#55d85c"/>
<circle cx="210.3" cy="479.3" r="0.45" fill="#55d85c"/>
<circle cx="179.0" cy="476.4" r="0.55" fill="#55d85c"/>
<circle cx="198.4" cy="450.5" r="0.45" fill="#55d85c"/>
<circle cx="219.6" cy="435.9" r="0.45" fill="#55d85c"/>
<circle cx="240.5" cy="467.4" r="0.45" fill="#55d85c"/>
<circle cx="223.1" cy="406.3" r="0.70" fill="#55d85c"/>
<circle cx="206.8" cy="411.1" r="0.45" fill="#55d85c"/>
<circle cx="246.9" cy="400.5" r="0.45" fill="#55d85c"/>
<circle cx="245.5" cy="414.6" r="0.45" fill="#55d85c"/>
<circle cx="169.7" cy="484.6" r="0.70" fill="#55d85c"/>
<circle cx="236.0" cy="455.1" r="0.45" fill="#55d85c"/>
<circle cx="243.3" cy="460.8" r="0.55" fill="#55d85c"/>
<circle cx="170.8" cy="431.8" r="0.45" fill="#55d85c"/>
<circle cx="242.7" cy="423.2" r="0.55" fill="#55d85c"/>
<circle cx="171.1" cy="453.1" r="0.45" fill="#55d85c"/>
<circle cx="204.3" cy="462.3" r="0.45" fill="#55d85c"/>
<circle cx="172.0" cy="472.0" r="0.55" fill="#55d85c"/>
<circle cx="215.7" cy="416.3" r="0.55" fill="#55d85c"/>
<circle cx="216.6" cy="405.0" r="0.45" fill="#55d85c"/>
<circle cx="244.3" cy="431.5" r="0.55" fill="#55d85c"/>
<circle cx="139.0" cy="469.3" r="0.55" fill="#55d85c"/>
<circle cx="179.5" cy="474.0" r="0.55" fill="#55d85c"/>
<circle cx="142.3" cy="415.9" r="0.45" fill="#55d85c"/>
<circle cx="150.4" cy="421.7" r="0.55" fill="#55d85c"/>
<circle cx="175.9" cy="431.2" r="0.70" fill="#55d85c"/>
<circle cx="165.4" cy="440.7" r="0.70" fill="#55d85c"/>
<circle cx="221.6" cy="470.2" r="0.55" fill="#55d85c"/>
<circle cx="141.1" cy="483.2" r="0.45" fill="#55d85c"/>
<circle cx="160.6" cy="445.1" r="0.55" fill="#55d85c"/>
<circle cx="240.7" cy="337.3" r="0.70" fill="#55d85c"/>
<circle cx="198.6" cy="334.7" r="0.55" fill="#55d85c"/>
<circle cx="171.6" cy="380.9" r="0.70" fill="#55d85c"/>
<circle cx="153.8" cy="370.5" r="0.55" fill="#55d85c"/>
<circle cx="155.3" cy="309.6" r="0.70" fill="#55d85c"/>
<circle cx="197.3" cy="343.6" r="0.45" fill="#55d85c"/>
<circle cx="220.7" cy="337.7" r="0.55" fill="#55d85c"/>
<circle cx="188.5" cy="345.1" r="0.45" fill="#55d85c"/>
<circle cx="237.5" cy="438.5" r="1.3" fill="#70f070"/><circle cx="179.7" cy="466.5" r="1.2" fill="#70f070"/>
</g>
<rect x="135" y="298.5" width="116.2" height="190.5" fill="none" stroke="#b41d7a" stroke-width="2.2"/>
<rect x="14" y="300.6" width="67" height="39.8" fill="#fff"/>
<rect x="17.6" y="303.4" width="7.4" height="7.3" fill="#3b4aa6"/>
<text x="26.6" y="310.7" font-size="11.7" text-anchor="start" font-weight="normal" fill="#111"  style="">Actin</text>
<rect x="17.6" y="315.7" width="7.4" height="7.3" fill="#3aa84c"/>
<text x="26.6" y="323.0" font-size="11.7" text-anchor="start" font-weight="normal" fill="#111"  style="">Liposome</text>
<rect x="17.6" y="328.0" width="7.4" height="7.3" fill="#9a3aa2"/>
<text x="26.6" y="335.3" font-size="11.7" text-anchor="start" font-weight="normal" fill="#111"  style="letter-spacing:-0.35px">Siglec-6</text>
<line x1="97" y1="372.4" x2="80" y2="365" stroke="#fff" stroke-width="0.8" marker-end="url(#ah)"/>
<line x1="42" y1="419" x2="59" y2="425.8" stroke="#fff" stroke-width="0.8" marker-end="url(#ah)"/>
<line x1="222" y1="366" x2="238" y2="360" stroke="#fff" stroke-width="0.8" marker-end="url(#ah)"/>
<line x1="165" y1="407" x2="148" y2="400.5" stroke="#fff" stroke-width="0.8" marker-end="url(#ah)"/>
<line x1="205.6" y1="405.4" x2="223.6" y2="398" stroke="#fff" stroke-width="0.8" marker-end="url(#ah)"/>
<line x1="219" y1="430" x2="237" y2="437.6" stroke="#fff" stroke-width="0.8" marker-end="url(#ah)"/>
<line x1="189" y1="446.6" x2="180" y2="464.6" stroke="#fff" stroke-width="0.8" marker-end="url(#ah)"/>
<line x1="14" y1="483.2" x2="28.5" y2="483.2" stroke="#fff" stroke-width="1.1"/>
<line x1="14" y1="481.7" x2="14" y2="484.7" stroke="#fff" stroke-width="0.8"/>
<line x1="28.5" y1="481.7" x2="28.5" y2="484.7" stroke="#fff" stroke-width="0.8"/>
<text x="30.3" y="487.3" font-size="12.3" text-anchor="start" font-weight="normal" fill="#fff"  style="">7 µm</text>
<line x1="137" y1="483.2" x2="151.5" y2="483.2" stroke="#fff" stroke-width="1.1"/>
<line x1="137" y1="481.7" x2="137" y2="484.7" stroke="#fff" stroke-width="0.8"/>
<line x1="151.5" y1="481.7" x2="151.5" y2="484.7" stroke="#fff" stroke-width="0.8"/>
<text x="153.3" y="487.3" font-size="12.3" text-anchor="start" font-weight="normal" fill="#fff"  style="">7 µm</text>
<text x="68" y="506" font-size="11.5" text-anchor="middle" font-weight="normal" fill="#111"  style="">Naked</text>
<text x="195.5" y="506.3" font-size="11.5" text-anchor="middle" fill="#111">5 mol% <tspan font-weight="bold">5</tspan></text>
</svg></body></html>
